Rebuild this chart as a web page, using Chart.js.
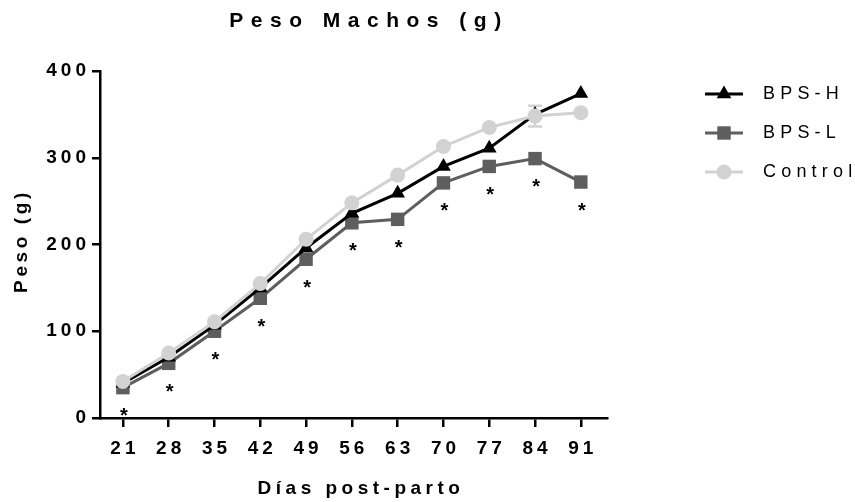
<!DOCTYPE html>
<html lang="es">
<head>
<meta charset="UTF-8">
<title>Peso Machos (g)</title>
<script src="https://cdn.jsdelivr.net/npm/chart.js"></script>
<style>
  html, body { margin: 0; padding: 0; background: #fff; }
  #wrap { width: 855px; height: 502px; }
</style>
</head>
<body>
<div id="wrap"><canvas id="pesoChart" width="855" height="502"></canvas></div>
<script>
// días post-parto y peso medio (g) de cada grupo
const dias = [21, 28, 35, 42, 49, 56, 63, 70, 77, 84, 91];
const bpsH = [40, 70, 107, 150, 196, 236, 259, 290, 311, 350, 374];
const bpsL = [35, 63, 100, 138, 183, 225, 229, 271, 290, 299, 272];
const control = [42, 75, 111, 155, 206, 248, 280, 313, 335, 348, 352];
const controlErr = [0, 0, 0, 0, 0, 0, 0, 0, 0, 12, 0];
// * = diferencia significativa BPS-L vs control
const sigL = [true, true, true, true, true, true, true, true, true, true, true];
const yTicks = [0, 100, 200, 300, 400];

const FONT = '"Liberation Sans", Arial, Helvetica, sans-serif';
const colores = { h: '#000000', l: '#5e5e5e', c: '#d2d2d2' };

Chart.defaults.font.family = FONT;
Chart.defaults.color = '#000';

function marcador(ctx, estilo, x, y, r) {
  ctx.beginPath();
  if (estilo === 'triangle') {
    for (let k = 0; k < 3; k++) {
      const a = k * 2 * Math.PI / 3;
      const px = x + Math.sin(a) * r, py = y - Math.cos(a) * r;
      k === 0 ? ctx.moveTo(px, py) : ctx.lineTo(px, py);
    }
    ctx.closePath();
  } else if (estilo === 'rect') {
    const s = r * Math.SQRT1_2;
    ctx.rect(x - s, y - s, 2 * s, 2 * s);
  } else {
    ctx.arc(x, y, r, 0, Math.PI * 2);
  }
  ctx.fill();
}

// espaciado entre letras para las etiquetas de los ejes
const espaciado = {
  id: 'espaciado',
  beforeLayout(chart) { chart.ctx.letterSpacing = '4px'; },
  beforeDraw(chart) { chart.ctx.letterSpacing = '4px'; }
};

const barrasError = {
  id: 'barrasError',
  beforeDatasetsDraw(chart) {
    const ctx = chart.ctx, y = chart.scales.y;
    const meta = chart.getDatasetMeta(2);
    ctx.save();
    ctx.strokeStyle = colores.c;
    ctx.lineWidth = 2.5;
    meta.data.forEach((pt, i) => {
      const e = controlErr[i];
      if (!e) return;
      const y1 = y.getPixelForValue(control[i] + e);
      const y2 = y.getPixelForValue(control[i] - e);
      ctx.beginPath();
      ctx.moveTo(pt.x, y1); ctx.lineTo(pt.x, y2);
      ctx.moveTo(pt.x - 7, y1); ctx.lineTo(pt.x + 7, y1);
      ctx.moveTo(pt.x - 7, y2); ctx.lineTo(pt.x + 7, y2);
      ctx.stroke();
    });
    ctx.restore();
  }
};

const asteriscos = {
  id: 'asteriscos',
  afterDatasetsDraw(chart) {
    const ctx = chart.ctx;
    const meta = chart.getDatasetMeta(1);
    ctx.save();
    ctx.letterSpacing = '0px';
    ctx.fillStyle = '#000';
    ctx.font = 'bold 20px ' + FONT;
    ctx.textAlign = 'center';
    ctx.textBaseline = 'middle';
    meta.data.forEach((pt, i) => {
      if (sigL[i]) ctx.fillText('*', pt.x + 1, pt.y + 29);
    });
    ctx.restore();
  }
};

const textos = {
  id: 'textos',
  afterDraw(chart) {
    const ctx = chart.ctx;
    ctx.save();
    ctx.fillStyle = '#000';
    ctx.textAlign = 'center';
    ctx.textBaseline = 'middle';

    ctx.font = 'bold 21px ' + FONT;
    ctx.letterSpacing = '7.5px';
    ctx.fillText('Peso Machos (g)', 369, 21);

    ctx.font = 'bold 19px ' + FONT;
    ctx.letterSpacing = '4.5px';
    ctx.fillText('Días post-parto', 361, 489);

    ctx.letterSpacing = '3.6px';
    ctx.translate(22, 243);
    ctx.rotate(-Math.PI / 2);
    ctx.fillText('Peso (g)', 2, 0);
    ctx.restore();

    // leyenda: línea + marcador + nombre
    ctx.save();
    ctx.font = '18px ' + FONT;
    ctx.letterSpacing = '5.2px';
    ctx.textAlign = 'left';
    ctx.textBaseline = 'middle';
    const filas = [94, 133, 172];
    [0, 1, 2].forEach(i => {
      const ds = chart.data.datasets[i];
      const y = filas[i];
      ctx.strokeStyle = ds.borderColor;
      ctx.fillStyle = ds.borderColor;
      ctx.lineWidth = 3;
      ctx.beginPath();
      ctx.moveTo(705, y); ctx.lineTo(743, y);
      ctx.stroke();
      marcador(ctx, ds.pointStyle, 724, y, ds.pointRadius);
      ctx.fillStyle = '#000';
      ctx.fillText(ds.label, 763, y);
    });
    ctx.restore();
  }
};

const ejeGrid = { drawOnChartArea: false, drawTicks: true, color: '#000', lineWidth: 2.5 };
const ejeBorde = { display: true, color: '#000', width: 2.5 };

new Chart(document.getElementById('pesoChart'), {
  type: 'line',
  data: {
    datasets: [
      {
        label: 'BPS-H', order: 1,
        data: dias.map((d, i) => ({ x: d, y: bpsH[i] })),
        borderColor: colores.h, backgroundColor: colores.h,
        pointBackgroundColor: colores.h, pointBorderColor: colores.h,
        pointStyle: 'triangle', pointRadius: 8.5, borderWidth: 3, pointBorderWidth: 0
      },
      {
        label: 'BPS-L', order: 2,
        data: dias.map((d, i) => ({ x: d, y: bpsL[i] })),
        borderColor: colores.l, backgroundColor: colores.l,
        pointBackgroundColor: colores.l, pointBorderColor: colores.l,
        pointStyle: 'rect', pointRadius: 9.5, borderWidth: 3, pointBorderWidth: 0
      },
      {
        label: 'Control', order: 0,
        data: dias.map((d, i) => ({ x: d, y: control[i] })),
        borderColor: colores.c, backgroundColor: colores.c,
        pointBackgroundColor: colores.c, pointBorderColor: colores.c,
        pointStyle: 'circle', pointRadius: 7.5, borderWidth: 3, pointBorderWidth: 0
      }
    ]
  },
  options: {
    responsive: false,
    animation: false,
    devicePixelRatio: 1,
    layout: { padding: { top: 71, right: 248, bottom: 0, left: 0 } },
    plugins: {
      legend: { display: false },
      title: { display: false },
      tooltip: { enabled: false }
    },
    scales: {
      x: {
        type: 'linear',
        min: 17.5,
        max: 95,
        afterBuildTicks: s => { s.ticks = dias.map(v => ({ value: v })); },
        afterFit: s => { s.height = 84; },
        grid: { ...ejeGrid, tickLength: 9 },
        border: ejeBorde,
        ticks: {
          color: '#000', font: { size: 19, weight: 'bold' },
          padding: 10, autoSkip: false, maxRotation: 0, labelOffset: 2
        }
      },
      y: {
        min: 0,
        max: 400,
        afterBuildTicks: s => { s.ticks = yTicks.map(v => ({ value: v })); },
        afterFit: s => { s.width = 100; },
        grid: { ...ejeGrid, tickLength: 8 },
        border: ejeBorde,
        ticks: { color: '#000', font: { size: 19, weight: 'bold' }, padding: 2 }
      }
    }
  },
  plugins: [espaciado, barrasError, asteriscos, textos]
});
</script>
</body>
</html>
